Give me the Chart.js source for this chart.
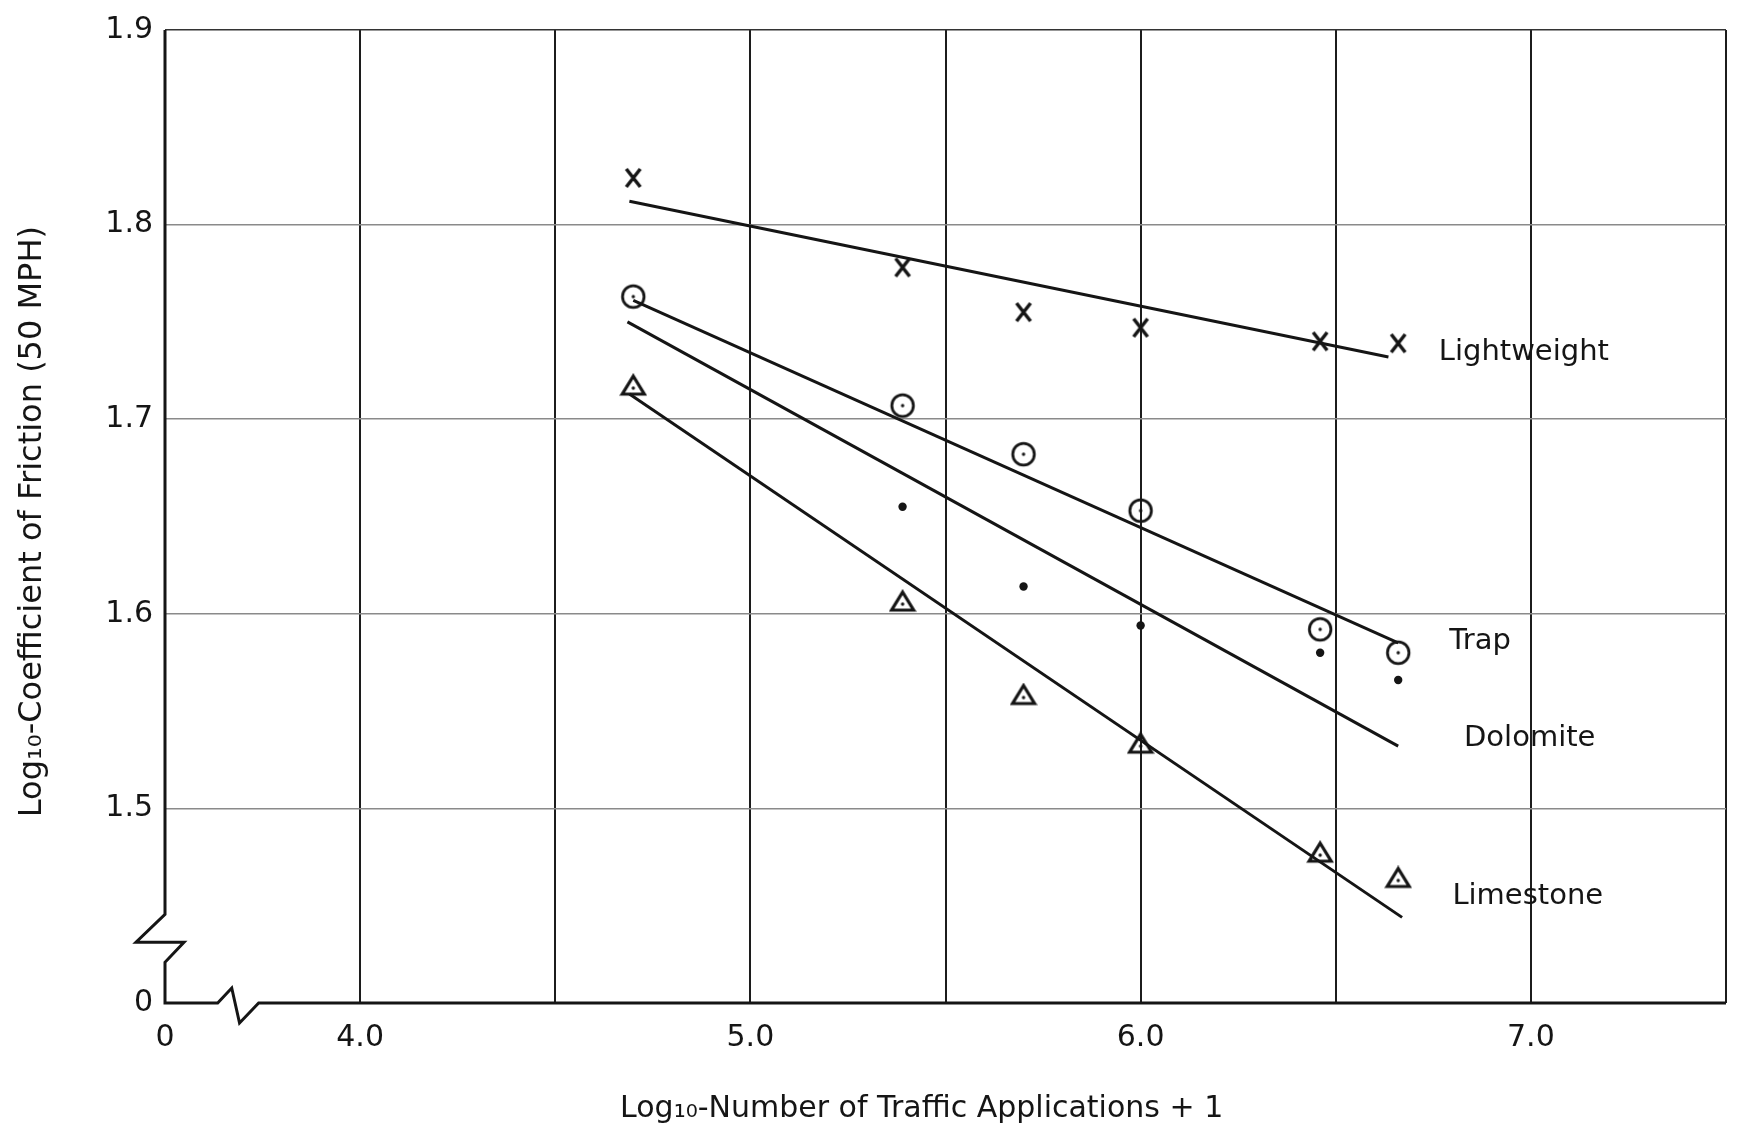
<!DOCTYPE html>
<html>
<head>
<meta charset="utf-8">
<script src="https://cdn.jsdelivr.net/npm/chart.js@4.4.1/dist/chart.umd.min.js"></script>
<style>
  html, body { margin: 0; padding: 0; background: #fff; }
  #wrap { width: 1743px; height: 1134px; }
</style>
</head>
<body>
<div id="wrap"><canvas id="frictionChart" width="1743" height="1134"></canvas></div>
<script>
// traffic applications (log10), same for every aggregate
const xApps = [4.70, 5.39, 5.70, 6.00, 6.46, 6.66];
const lightweight = [1.824, 1.778, 1.755, 1.747, 1.740, 1.739];
const trap = [1.763, 1.707, 1.682, 1.653, 1.592, 1.580];
const dolomiteX = [5.39, 5.70, 6.00, 6.46, 6.66];
const dolomite = [1.655, 1.614, 1.594, 1.580, 1.566];
const limestone = [1.717, 1.606, 1.558, 1.533, 1.477, 1.464];

// fitted lines: start and end of each
const lightFitX = [4.69, 6.635];
const lightFitY = [1.812, 1.732];
const trapFitX = [4.70, 6.66];
const trapFitY = [1.761, 1.585];
const doloFitX = [4.685, 6.66];
const doloFitY = [1.750, 1.532];
const limeFitX = [4.69, 6.67];
const limeFitY = [1.713, 1.444];

const xTicks = [3.5, 4.0, 4.5, 5.0, 5.5, 6.0, 6.5, 7.0, 7.5];
const xTickLabels = ['0', '4.0', '', '5.0', '', '6.0', '', '7.0', ''];
const yTicks = [1.4, 1.5, 1.6, 1.7, 1.8, 1.9];
const yTickLabels = ['0', '1.5', '1.6', '1.7', '1.8', '1.9'];

const seriesNames = ['Lightweight', 'Trap', 'Dolomite', 'Limestone'];

const FONT = '"DejaVu Sans", sans-serif';
const INK = '#151515';

function pts(xs, ys) {
    return ys.map((y, i) => ({ x: xs[i], y: y }));
}

// marker images
function makeCircleDot() {
    const c = document.createElement('canvas');
    c.width = 28; c.height = 28;
    const g = c.getContext('2d');
    g.strokeStyle = INK; g.lineWidth = 2.8;
    g.beginPath(); g.arc(14, 14, 10.8, 0, Math.PI * 2); g.stroke();
    g.fillStyle = INK;
    g.beginPath(); g.arc(14, 14, 1.7, 0, Math.PI * 2); g.fill();
    return c;
}
function makeTriDot() {
    const c = document.createElement('canvas');
    c.width = 28; c.height = 26;
    const g = c.getContext('2d');
    g.strokeStyle = INK; g.lineWidth = 3.2; g.lineJoin = 'miter';
    g.beginPath(); g.moveTo(14, 3); g.lineTo(25, 21); g.lineTo(3, 21); g.closePath(); g.stroke();
    g.fillStyle = INK;
    g.beginPath(); g.arc(14, 15, 1.7, 0, Math.PI * 2); g.fill();
    return c;
}
function makeCross() {
    const c = document.createElement('canvas');
    c.width = 20; c.height = 22;
    const g = c.getContext('2d');
    g.strokeStyle = INK; g.lineWidth = 3.5; g.lineCap = 'butt';
    g.beginPath(); g.moveTo(3, 2); g.lineTo(17, 20); g.moveTo(17, 2); g.lineTo(3, 20); g.stroke();
    return c;
}

// broken axes drawn by hand with the zigzag breaks
const brokenAxes = {
    id: 'brokenAxes',
    afterDatasetsDraw(chart) {
        const { ctx, scales: { x, y } } = chart;
        const x0 = x.getPixelForValue(3.5);
        const y0 = y.getPixelForValue(1.4);
        const yTop = y.getPixelForValue(1.9);
        ctx.save();
        ctx.strokeStyle = INK;
        ctx.lineWidth = 3;
        ctx.lineJoin = 'miter';
        // y axis
        ctx.beginPath();
        ctx.moveTo(x0, yTop);
        ctx.lineTo(x0, y.getPixelForValue(1.4455));
        ctx.lineTo(x0 - 29, y.getPixelForValue(1.4312));
        ctx.lineTo(x0 + 19, y.getPixelForValue(1.4312));
        ctx.lineTo(x0, y.getPixelForValue(1.4209));
        ctx.lineTo(x0, y0);
        // x axis
        ctx.lineTo(x.getPixelForValue(3.635), y0);
        ctx.lineTo(x.getPixelForValue(3.671), y0 - 15);
        ctx.lineTo(x.getPixelForValue(3.691), y0 + 20);
        ctx.lineTo(x.getPixelForValue(3.740), y0);
        ctx.lineTo(x.getPixelForValue(7.5), y0);
        ctx.stroke();
        ctx.restore();
    }
};

// series names at the right-hand end of the lines
const seriesLabels = {
    id: 'seriesLabels',
    afterDatasetsDraw(chart) {
        const { ctx, scales: { x, y } } = chart;
        const spots = [[6.982, 1.7345], [6.87, 1.586], [6.997, 1.536], [6.992, 1.455]];
        ctx.save();
        ctx.fillStyle = INK;
        ctx.font = '29px ' + FONT;
        ctx.textAlign = 'center';
        ctx.textBaseline = 'middle';
        seriesNames.forEach((name, i) => {
            ctx.fillText(name, x.getPixelForValue(spots[i][0]), y.getPixelForValue(spots[i][1]));
        });
        ctx.restore();
    }
};

document.addEventListener('DOMContentLoaded', () => {
    const ctx = document.getElementById('frictionChart').getContext('2d');

    const fitLine = (xs, ys) => ({
        type: 'line',
        data: pts(xs, ys),
        borderColor: INK,
        borderWidth: 3,
        pointRadius: 0,
        fill: false,
        tension: 0
    });

    new Chart(ctx, {
        type: 'scatter',
        data: {
            datasets: [
                fitLine(lightFitX, lightFitY),
                fitLine(trapFitX, trapFitY),
                fitLine(doloFitX, doloFitY),
                fitLine(limeFitX, limeFitY),
                {
                    label: seriesNames[0],
                    data: pts(xApps, lightweight),
                    pointStyle: makeCross()
                },
                {
                    label: seriesNames[1],
                    data: pts(xApps, trap),
                    pointStyle: makeCircleDot()
                },
                {
                    label: seriesNames[2],
                    data: pts(dolomiteX, dolomite),
                    pointStyle: 'circle',
                    pointRadius: 4.2,
                    backgroundColor: INK,
                    borderColor: INK,
                    borderWidth: 0
                },
                {
                    label: seriesNames[3],
                    data: pts(xApps, limestone),
                    pointStyle: makeTriDot()
                }
            ]
        },
        options: {
            responsive: false,
            animation: false,
            layout: { padding: { top: 24, right: 8, left: 0, bottom: 0 } },
            plugins: {
                legend: { display: false },
                tooltip: { enabled: false }
            },
            scales: {
                x: {
                    type: 'linear',
                    min: 3.5,
                    max: 7.5,
                    afterBuildTicks: (scale) => { scale.ticks = xTicks.map(v => ({ value: v })); },
                    afterFit: (scale) => { scale.height = 131; },
                    border: { display: false },
                    grid: {
                        drawTicks: false,
                        lineWidth: 2,
                        color: (c) => (c.tick && c.tick.value === 3.5) ? 'rgba(0,0,0,0)' : '#1c1c1c'
                    },
                    ticks: {
                        padding: 17,
                        maxRotation: 0,
                        autoSkip: false,
                        color: INK,
                        font: { family: FONT, size: 30 },
                        callback: (v) => {
                            const i = xTicks.findIndex(t => Math.abs(t - v) < 1e-6);
                            return i >= 0 ? xTickLabels[i] : '';
                        }
                    },
                    title: {
                        display: true,
                        text: 'Log₁₀-Number of Traffic Applications + 1     ',
                        color: INK,
                        font: { family: FONT, size: 30 },
                        padding: { top: 0, bottom: 7 }
                    }
                },
                y: {
                    type: 'linear',
                    min: 1.4,
                    max: 1.9,
                    afterBuildTicks: (scale) => { scale.ticks = yTicks.map(v => ({ value: v })); },
                    afterFit: (scale) => { scale.width = 165; },
                    border: { display: false },
                    grid: {
                        drawTicks: false,
                        lineWidth: 1.6,
                        color: (c) => {
                            const v = c.tick ? c.tick.value : 0;
                            if (Math.abs(v - 1.4) < 1e-6) return 'rgba(0,0,0,0)';
                            if (Math.abs(v - 1.9) < 1e-6) return '#333';
                            return '#8a8a8a';
                        }
                    },
                    ticks: {
                        padding: 12,
                        autoSkip: false,
                        color: INK,
                        font: { family: FONT, size: 30 },
                        callback: (v) => {
                            const i = yTicks.findIndex(t => Math.abs(t - v) < 1e-6);
                            return i >= 0 ? yTickLabels[i] : '';
                        }
                    },
                    title: {
                        display: true,
                        text: 'Log₁₀-Coefficient of Friction (50 MPH) ',
                        color: INK,
                        font: { family: FONT, size: 32 },
                        padding: { top: 13, bottom: 0 }
                    }
                }
            }
        },
        plugins: [brokenAxes, seriesLabels]
    });
});
</script>
</body>
</html>
